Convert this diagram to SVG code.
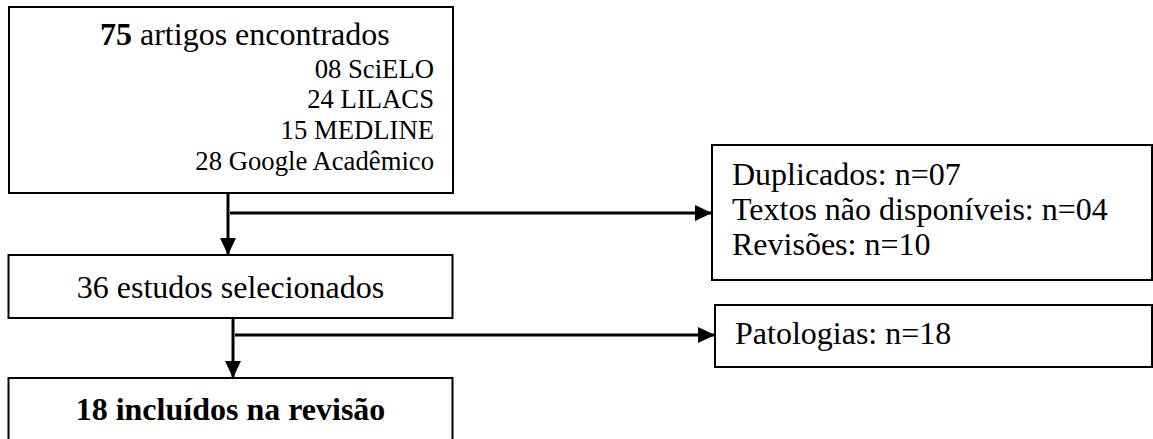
<svg xmlns="http://www.w3.org/2000/svg" width="1153" height="439" viewBox="0 0 1153 439">
  <style>
    .box { fill: #fff; stroke: #000; stroke-width: 2; }
    .t { font-family: "Liberation Serif", "Times New Roman", serif; fill: #000; }
    .big { font-size: 32px; }
    .small { font-size: 26.7px; }
    .conn { fill: none; stroke: #000; stroke-width: 3; }
  </style>
  <defs>
    <marker id="arrow" markerUnits="userSpaceOnUse" markerWidth="17" markerHeight="16" viewBox="0 0 17 16" refX="17" refY="8" orient="auto">
      <path d="M0,0 L17,8 L0,16 Z" fill="#000"/>
    </marker>
  </defs>
  <rect x="0" y="0" width="1153" height="439" fill="#fff"/>

  <g id="found">
    <rect class="box" x="9" y="7" width="444" height="186"/>
    <text class="t big" x="100" y="45"><tspan font-weight="bold">75</tspan> artigos encontrados</text>
    <text class="t small" x="434" y="78" text-anchor="end">08 SciELO</text>
    <text class="t small" x="434" y="108" text-anchor="end">24 LILACS</text>
    <text class="t small" x="434" y="139" text-anchor="end">15 MEDLINE</text>
    <text class="t small" x="434" y="170" text-anchor="end">28 Google Acadêmico</text>
  </g>

  <g id="excluded1">
    <rect class="box" x="712" y="145" width="440" height="135"/>
    <text class="t big" x="732" y="185">Duplicados: n=07</text>
    <text class="t big" x="732" y="220">Textos não disponíveis: n=04</text>
    <text class="t big" x="732" y="255">Revisões: n=10</text>
  </g>

  <g id="selected">
    <rect class="box" x="8.5" y="255" width="444" height="63"/>
    <text class="t big" x="230.5" y="298" text-anchor="middle">36 estudos selecionados</text>
  </g>

  <g id="excluded2">
    <rect class="box" x="715" y="305" width="437" height="62"/>
    <text class="t big" x="735" y="344">Patologias: n=18</text>
  </g>

  <g id="included">
    <rect class="box" x="8.5" y="378" width="444" height="70"/>
    <text class="t big" x="230.5" y="420" text-anchor="middle" font-weight="bold">18 incluídos na revisão</text>
  </g>

  <g id="connectors">
    <line class="conn" x1="228" y1="193" x2="228" y2="255" marker-end="url(#arrow)"/>
    <line class="conn" x1="230" y1="213" x2="712" y2="213" marker-end="url(#arrow)"/>
    <line class="conn" x1="233" y1="318" x2="233" y2="378" marker-end="url(#arrow)"/>
    <line class="conn" x1="235" y1="335" x2="715" y2="335" marker-end="url(#arrow)"/>
  </g>
</svg>
